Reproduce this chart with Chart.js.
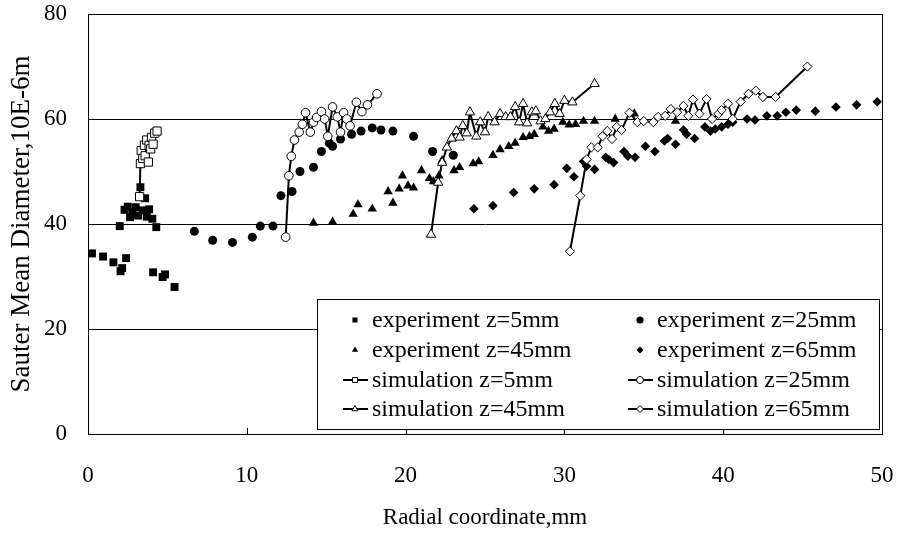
<!DOCTYPE html>
<html>
<head>
<meta charset="utf-8">
<script src="https://cdn.jsdelivr.net/npm/chart.js@4"></script>
<style>
  body { margin: 0; background: #fff; }
  #wrap { width: 901px; height: 533px; }
</style>
</head>
<body>
<div id="wrap"><canvas id="myChart" width="901" height="533"></canvas></div>
<script>
// data: [radial coordinate mm, Sauter mean diameter]
const exp5 = [[0.25,34.4],[0.95,33.8],[1.6,32.7],[2.05,31.0],[2.15,31.6],[2.4,33.5],[2.0,39.6],[2.3,42.7],[2.5,43.3],[2.65,41.3],[2.8,42.2],[3.0,43.2],[3.15,41.6],[3.3,47.0],[3.45,42.6],[3.6,44.9],[3.7,41.4],[3.85,42.8],[4.05,41.0],[4.3,39.4],[4.1,30.8],[4.7,29.9],[4.85,30.4],[5.45,28.0]]
const exp25 = [[6.7,38.6],[7.85,36.9],[9.1,36.5],[10.35,37.5],[10.85,39.6],[11.65,39.6],[12.15,45.4],[12.85,46.2],[13.35,50.0],[14.2,50.8],[14.7,53.8],[15.2,55.4],[15.4,54.8],[15.9,56.2],[16.6,57.1],[17.2,57.7],[17.9,58.3],[18.45,57.9],[19.2,57.7],[20.5,56.7],[21.7,53.8],[23.0,53.1]]
const exp45 = [[14.2,40.2],[15.4,40.4],[16.7,41.9],[17.0,43.7],[17.9,42.9],[18.9,46.2],[19.2,44.0],[19.6,46.7],[19.8,49.2],[20.15,47.3],[20.5,46.9],[21.0,50.2],[21.5,48.7],[21.75,48.1],[22.1,49.2],[22.3,52.1],[23.05,50.2],[23.4,50.8],[24.25,51.5],[24.6,51.9],[25.5,53.1],[25.95,54.2],[26.5,54.8],[26.9,55.4],[27.4,56.5],[27.8,56.7],[28.1,57.1],[28.65,58.5],[29.0,57.7],[29.35,58.1],[29.9,59.4],[30.3,58.9],[30.7,59.0],[31.2,59.6],[31.9,59.6],[33.2,60.0],[34.4,61.0],[37.0,59.6]]
const exp65 = [[24.3,42.9],[25.5,43.5],[26.8,46.0],[28.1,46.7],[29.35,47.5],[30.15,50.6],[30.6,49.0],[31.2,51.9],[31.4,51.0],[31.9,50.4],[32.6,52.7],[32.8,52.3],[33.1,51.7],[33.75,53.8],[34.0,52.9],[34.45,52.7],[35.1,54.8],[35.7,53.8],[36.3,55.8],[36.5,56.3],[37.0,55.2],[37.5,57.9],[37.7,57.1],[38.2,56.3],[38.85,58.5],[39.2,57.7],[39.5,58.1],[39.9,58.5],[40.3,59.0],[40.6,59.4],[41.5,60.0],[42.0,59.8],[42.75,60.6],[43.4,60.6],[43.95,61.3],[44.6,61.7],[45.8,61.5],[47.1,62.3],[48.4,62.7],[49.7,63.3]]

const sim5 = [[3.25,45.2],[3.3,51.5],[3.35,54.0],[3.45,52.5],[3.55,55.0],[3.6,53.0],[3.7,56.0],[3.8,51.8],[3.85,55.0],[3.95,54.3],[4.0,56.5],[4.1,55.2],[4.2,57.3],[4.35,57.7]]
const sim25 = [[12.45,37.5],[12.65,49.2],[12.8,52.9],[13.0,56.0],[13.3,57.5],[13.5,59.0],[13.7,61.2],[14.0,57.5],[14.2,59.4],[14.4,60.3],[14.7,61.4],[14.9,60.0],[15.1,56.7],[15.4,62.3],[15.7,60.4],[15.9,57.5],[16.1,61.2],[16.3,60.0],[16.5,58.7],[16.9,63.2],[17.25,61.4],[17.6,62.7],[18.2,64.8]]
const sim45 = [[21.6,38.0],[22.05,47.9],[22.3,51.7],[22.6,54.6],[22.9,56.3],[23.2,57.7],[23.4,56.5],[23.6,58.7],[23.85,57.3],[24.05,61.3],[24.45,56.7],[24.7,59.4],[25.0,57.5],[25.2,60.4],[25.6,59.4],[25.95,61.0],[26.3,60.4],[26.6,60.4],[26.9,62.3],[27.15,59.4],[27.4,62.9],[27.65,59.2],[27.95,61.3],[28.2,61.5],[28.5,59.6],[28.8,60.0],[29.1,61.3],[29.4,62.9],[29.7,61.0],[30.0,63.5],[30.5,63.2],[31.9,66.7]]
const sim65 = [[30.35,34.8],[31.0,45.4],[31.4,52.3],[31.7,54.6],[32.1,54.6],[32.4,56.7],[32.7,57.7],[33.0,56.2],[33.3,58.5],[33.6,57.9],[34.1,61.2],[34.6,59.4],[35.0,59.6],[35.6,59.4],[35.9,60.4],[36.35,60.6],[36.7,61.9],[37.1,61.3],[37.5,62.5],[37.8,60.6],[38.1,63.7],[38.5,61.0],[38.95,63.8],[39.3,60.0],[39.7,61.0],[39.9,61.7],[40.3,62.9],[40.6,60.0],[41.1,63.3],[41.6,64.8],[42.05,65.4],[42.5,64.2],[43.3,64.2],[45.3,70.0]]

const xTicks = [0, 10, 20, 30, 40, 50]
const yTicks = [0, 20, 40, 60, 80]
const xTitle = 'Radial coordinate,mm'
const yTitle = 'Sauter Mean Diameter,10E-6m'

const serif = "'Liberation Serif', 'Times New Roman', serif"

const toPts = (arr) => arr.map((p) => ({ x: p[0], y: p[1] }))

function expSet(label, data, style, radius) {
  return {
    label: label,
    data: toPts(data),
    pointStyle: style,
    pointRadius: radius,
    backgroundColor: '#000',
    borderColor: '#000',
    borderWidth: 0,
    showLine: false,
    order: 1
  }
}

function simSet(label, data, style, radius) {
  return {
    label: label,
    data: toPts(data),
    pointStyle: style,
    pointRadius: radius,
    pointBackgroundColor: '#fff',
    pointBorderColor: '#000',
    pointBorderWidth: 1,
    borderColor: '#000',
    borderWidth: 2,
    showLine: true,
    order: 0
  }
}

const datasets = [
  expSet('experiment z=5mm', exp5, 'rect', 5.6),
  expSet('experiment z=25mm', exp25, 'circle', 4.5),
  expSet('experiment z=45mm', exp45, 'triangle', 5.4),
  expSet('experiment z=65mm', exp65, 'rectRot', 4.8),
  simSet('simulation z=5mm', sim5, 'rect', 5.8),
  simSet('simulation z=25mm', sim25, 'circle', 4.3),
  simSet('simulation z=45mm', sim45, 'triangle', 5.4),
  simSet('simulation z=65mm', sim65, 'rectRot', 4.6)
]

// frame, inner x ticks and the boxed legend inside the plot
const framePlugin = {
  id: 'frame',
  beforeDatasetsDraw(chart) {
    const { ctx, chartArea: a, scales } = chart
    ctx.save()
    ctx.strokeStyle = '#000'
    ctx.lineWidth = 1
    ctx.strokeRect(Math.round(a.left) + 0.5, Math.round(a.top) + 0.5, Math.round(a.right - a.left), Math.round(a.bottom - a.top))
    ctx.beginPath()
    xTicks.slice(1, -1).forEach((v) => {
      const px = Math.round(scales.x.getPixelForValue(v)) + 0.5
      ctx.moveTo(px, a.bottom)
      ctx.lineTo(px, a.bottom - 6)
    })
    ctx.stroke()
    ctx.restore()
  },
  afterDatasetsDraw(chart) {
    const { ctx } = chart
    const box = { x: 317.5, y: 299.5, w: 562, h: 130 }
    ctx.save()
    ctx.fillStyle = '#fff'
    ctx.fillRect(box.x, box.y, box.w, box.h)
    ctx.strokeStyle = '#000'
    ctx.lineWidth = 1
    ctx.strokeRect(box.x, box.y, box.w, box.h)
    const rows = [320, 350, 380, 409]
    const cols = [355, 640]
    ctx.font = '24px ' + serif
    ctx.textBaseline = 'middle'
    ctx.textAlign = 'left'
    chart.data.datasets.forEach((ds, i) => {
      const cx = cols[i % 2]
      const cy = rows[Math.floor(i / 2)]
      const isSim = ds.showLine
      if (isSim) {
        ctx.strokeStyle = '#000'
        ctx.lineWidth = 2
        ctx.beginPath()
        ctx.moveTo(cx - 12, cy)
        ctx.lineTo(cx + 13, cy)
        ctx.stroke()
        ctx.fillStyle = '#fff'
        ctx.lineWidth = 1
      } else {
        ctx.fillStyle = '#000'
        ctx.strokeStyle = '#000'
        ctx.lineWidth = 0
      }
      Chart.helpers.drawPoint(ctx, {
        pointStyle: ds.pointStyle,
        radius: isSim ? 3.5 : 3.6,
        rotation: 0,
        borderWidth: isSim ? 1 : 0
      }, cx, cy)
      ctx.fillStyle = '#000'
      ctx.fillText(ds.label, cx + 17, cy + 1)
    })
    ctx.restore()
  }
}

const ctx = document.getElementById('myChart').getContext('2d')

const chart = new Chart(ctx, {
  type: 'scatter',
  data: { datasets: datasets },
  options: {
    responsive: false,
    animation: false,
    events: [],
    layout: { padding: { left: 0, right: 19, top: 14, bottom: 0 } },
    plugins: {
      legend: { display: false },
      tooltip: { enabled: false }
    },
    scales: {
      x: {
        type: 'linear',
        min: 0,
        max: 50,
        afterBuildTicks: (s) => { s.ticks = xTicks.map((v) => ({ value: v })) },
        afterFit: (s) => {
          s.height = 99
          s.paddingLeft = 0
          s.paddingRight = 0
        },
        grid: { display: false, drawTicks: false },
        border: { display: true, color: '#000', width: 1 },
        ticks: { color: '#000', padding: 28, font: { family: serif, size: 23 } },
        title: { display: true, text: xTitle, color: '#000', padding: { top: 0, bottom: 1 }, font: { family: serif, size: 23 } }
      },
      y: {
        type: 'linear',
        min: 0,
        max: 80,
        afterBuildTicks: (s) => { s.ticks = yTicks.map((v) => ({ value: v })) },
        afterFit: (s) => {
          s.width = 88
          s.paddingTop = 0
          s.paddingBottom = 0
        },
        grid: { color: '#000', lineWidth: 1, drawTicks: false },
        border: { display: true, color: '#000', width: 1 },
        ticks: { color: '#000', padding: 21, font: { family: serif, size: 23 } },
        title: { display: true, text: yTitle, color: '#000', padding: { top: 6, bottom: 0 }, font: { family: serif, size: 27 } }
      }
    }
  },
  plugins: [framePlugin]
})
</script>
</body>
</html>
